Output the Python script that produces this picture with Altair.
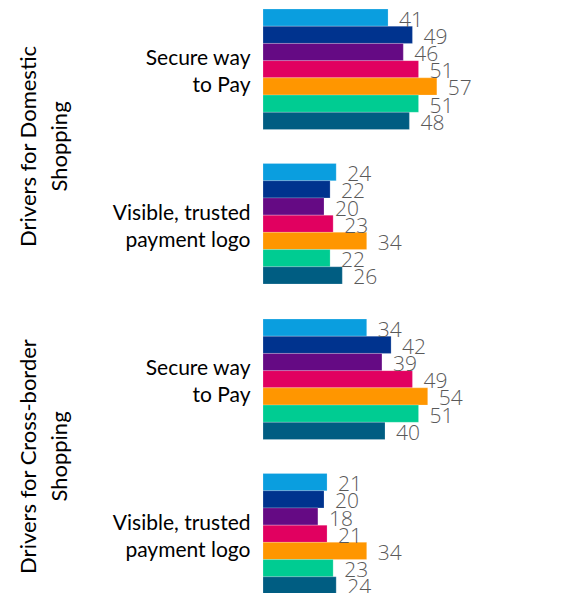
import altair as alt
import pandas as pd

facets = ["Drivers for Domestic|Shopping", "Drivers for Cross-border|Shopping"]
groups = ["Secure way|to Pay", "Visible, trusted|payment logo"]
series = ["S1", "S2", "S3", "S4", "S5", "S6", "S7"]
colors = ["#0A9EDF", "#00338E", "#650A84", "#E10060", "#FF9600", "#00CC92", "#005D82"]

dom_secure = [41, 49, 46, 51, 57, 51, 48]
dom_visible = [24, 22, 20, 23, 34, 22, 26]
cb_secure = [34, 42, 39, 49, 54, 51, 40]
cb_visible = [21, 20, 18, 21, 34, 23, 24]

rows = []
for f, g, vals in [
    (facets[0], groups[0], dom_secure),
    (facets[0], groups[1], dom_visible),
    (facets[1], groups[0], cb_secure),
    (facets[1], groups[1], cb_visible),
]:
    for s, v in zip(series, vals):
        rows.append({"facet": f, "group": g, "series": s, "value": v})
df = pd.DataFrame(rows)

y_enc = alt.Y("group:N", sort=groups,
              scale=alt.Scale(paddingInner=0.22, paddingOuter=0),
              axis=alt.Axis(title=None, domain=False, ticks=False,
                            labelExpr="split(datum.value, '|')",
                            labelFont="Lato", labelFontSize=21, labelColor="#000000",
                            labelLineHeight=27, labelPadding=13, labelLimit=300,
                            labelOffset=-10,
                            minExtent=177, maxExtent=177))
yoff = alt.YOffset("series:N", sort=series, scale=alt.Scale(paddingInner=0, paddingOuter=0))

bars = alt.Chart().mark_bar(stroke="#ffffff", strokeWidth=0.4, strokeOpacity=0.5).encode(
    x=alt.X("value:Q", scale=alt.Scale(domain=[0, 60]), axis=None),
    y=y_enc,
    yOffset=yoff,
    color=alt.Color("series:N", sort=series,
                    scale=alt.Scale(domain=series, range=colors), legend=None),
)
labels = alt.Chart().mark_text(align="left", baseline="middle", dx=11, dy=3,
                               font="Open Sans", fontSize=21, fontWeight=300,
                               color="#595959").encode(
    x=alt.X("value:Q"),
    y=alt.Y("group:N", sort=groups),
    yOffset=yoff,
    text="value:Q",
)

chart = alt.layer(bars, labels, data=df).properties(width=183, height=275).facet(
    row=alt.Row("facet:N", sort=facets, title=None,
                header=alt.Header(labelExpr="split(datum.value, '|')",
                                  labelAngle=-90, labelOrient="left",
                                  labelFont="Lato", labelFontSize=22,
                                  labelColor="#000000", labelLineHeight=31,
                                  labelPadding=4)),
    spacing=35,
    bounds="flush",
).properties(padding={"left": 10, "top": 0, "right": 5, "bottom": 0}
).configure_view(stroke=None)

chart.save("out.html", embed_options={"renderer": "svg", "actions": False})
